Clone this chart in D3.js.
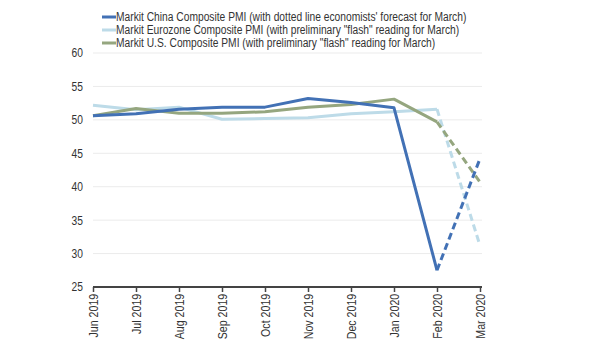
<!DOCTYPE html>
<html>
<head>
<meta charset="utf-8">
<script src="https://cdn.jsdelivr.net/npm/d3@7"></script>
<style>
  body { margin: 0; background: #fff; }
  svg text { font-family: "Liberation Sans", Arial, sans-serif; fill: #333; }
</style>
</head>
<body>
<svg id="chart" width="600" height="364"></svg>
<script>
// months on the x axis
var months = ["Jun 2019", "Jul 2019", "Aug 2019", "Sep 2019", "Oct 2019", "Nov 2019", "Dec 2019", "Jan 2020", "Feb 2020", "Mar 2020"];

// PMI readings (last point of each is the forecast / flash value, drawn dashed)
var china    = [50.6, 50.9, 51.6, 51.9, 51.9, 53.2, 52.6, 51.8, 27.5, 44.2];
var eurozone = [52.2, 51.5, 51.9, 50.1, 50.2, 50.3, 50.9, 51.2, 51.6, 31.2];
var us       = [50.6, 51.7, 51.0, 51.0, 51.2, 51.9, 52.3, 53.1, 49.7, 40.7];

var yTicks = [25, 30, 35, 40, 45, 50, 55, 60];

var seriesNames = [
  "Markit China Composite PMI (with dotted line economists' forecast for March)",
  "Markit Eurozone Composite PMI (with preliminary \"flash\" reading for March)",
  "Markit U.S. Composite PMI (with preliminary \"flash\" reading for March)"
];
var seriesColors = ["#4271b5", "#bddbe8", "#95a67f"];

var series = [
  { name: seriesNames[0], color: seriesColors[0], values: china },
  { name: seriesNames[1], color: seriesColors[1], values: eurozone },
  { name: seriesNames[2], color: seriesColors[2], values: us }
];

// the source uses a condensed face, squeeze the regular one to match
var squeeze = 0.82;

var margin = { left: 93, right: 120, top: 53, bottom: 77 };
var width = 600 - margin.left - margin.right,
    height = 364 - margin.top - margin.bottom;

var svg = d3.select("#chart");
var g = svg.append("g").attr("transform", "translate(" + margin.left + "," + margin.top + ")");

var x = d3.scalePoint().domain(months).range([0, 387]);
var y = d3.scaleLinear().domain([25, 60]).range([height, 0]);

// gridlines
g.selectAll(".grid")
  .data(yTicks.filter(function(d) { return d > 25; }))
  .enter().append("line")
  .attr("x1", 0).attr("x2", 389)
  .attr("y1", function(d) { return y(d); })
  .attr("y2", function(d) { return y(d); })
  .style("stroke", "#ebebeb").style("stroke-width", "1px");

// y labels
g.selectAll(".ylab")
  .data(yTicks)
  .enter().append("text")
  .attr("transform", function(d) { return "translate(-10," + y(d) + ") scale(" + squeeze + ",1)"; })
  .attr("dy", "0.35em")
  .attr("text-anchor", "end")
  .style("font-size", "12.5px")
  .text(function(d) { return d; });

// x axis
var xAxis = g.append("g")
  .attr("transform", "translate(0," + height + ")")
  .call(d3.axisBottom(x).tickSize(5).tickSizeOuter(0));
xAxis.select(".domain").attr("d", "M0,0H389").style("stroke", "#444").style("stroke-width", "2px");
xAxis.selectAll(".tick line").style("stroke", "#444").style("stroke-width", "1.5px");
xAxis.selectAll(".tick text")
  .attr("transform", "rotate(-90) scale(0.85,1)")
  .attr("x", -8).attr("y", 0).attr("dy", "0.35em")
  .attr("text-anchor", "end")
  .style("font-size", "12.5px")
  .style("font-family", "'Liberation Sans', Arial, sans-serif")
  .style("fill", "#333");

var line = d3.line()
  .x(function(d) { return x(d.m); })
  .y(function(d) { return y(d.v); });

var drawOrder = [series[1], series[2], series[0]];
drawOrder.forEach(function(s) {
  var pts = s.values.map(function(v, i) { return { m: months[i], v: v }; });
  var n = pts.length;
  g.append("path")
    .datum(pts.slice(0, n - 1))
    .attr("d", line)
    .style("fill", "none")
    .style("stroke", s.color)
    .style("stroke-width", "3px")
    .style("stroke-linejoin", "round");
  g.append("path")
    .datum(pts.slice(n - 2))
    .attr("d", line)
    .style("fill", "none")
    .style("stroke", s.color)
    .style("stroke-width", "3px")
    .style("stroke-dasharray", "7,4");
});

// legend
var legend = svg.append("g").attr("transform", "translate(102,17)");
series.forEach(function(s, i) {
  var row = legend.append("g").attr("transform", "translate(0," + (i * 13) + ")");
  row.append("line")
    .attr("x1", 0).attr("x2", 14)
    .style("stroke", s.color).style("stroke-width", "3px");
  row.append("text")
    .attr("transform", "translate(14,0) scale(" + squeeze + ",1)")
    .attr("dy", "0.35em")
    .style("font-size", "12.5px")
    .text(s.name);
});
</script>
</body>
</html>
